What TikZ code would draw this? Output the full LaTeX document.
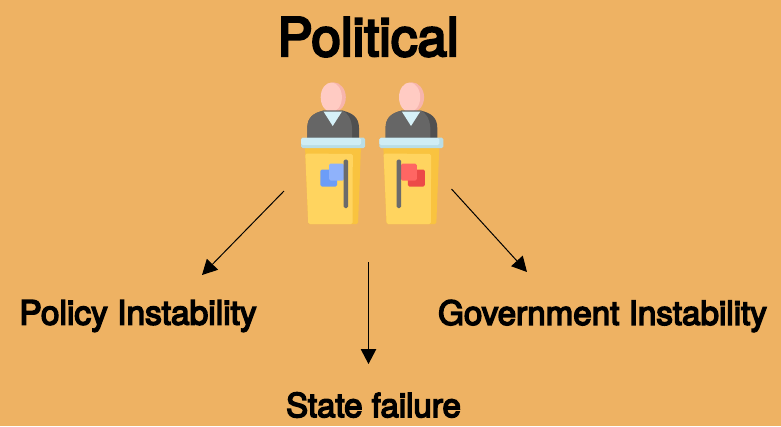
\documentclass[tikz,border=0pt]{standalone}
\usepackage{fontspec}
\setmainfont{TeX Gyre Heros}
\newfontfamily\heavy[FakeBold=4.5]{TeX Gyre Heros}
\usetikzlibrary{arrows.meta}
\definecolor{bgc}{HTML}{EEB263}
\definecolor{skin}{HTML}{FFCBC3}
\definecolor{skind}{HTML}{F7B5AD}
\definecolor{suit}{HTML}{666666}
\definecolor{suitd}{HTML}{505050}
\definecolor{shirt}{HTML}{D6F1F8}
\definecolor{bar}{HTML}{CFEDF5}
\definecolor{bard}{HTML}{B9DDE6}
\definecolor{wood}{HTML}{FFD45F}
\definecolor{woodd}{HTML}{F9C33F}
\definecolor{pole}{HTML}{6B6B6B}
\definecolor{blue1}{HTML}{6C9DF8}
\definecolor{blue2}{HTML}{8FB2FB}
\definecolor{red1}{HTML}{EC4A48}
\definecolor{red2}{HTML}{FF6663}
\tikzset{
  lab/.style={inner sep=0pt,font=\heavy\fontsize{#1}{#1}\selectfont,text=black},
  link/.style={draw=black,line width=1pt,-{Triangle[length=15pt,width=15.5pt]}},
  rc/.style={rounded corners=1.5pt},
}
\newcommand{\speakerbody}{%
  \fill[skind] (333.5,97.3) ellipse[x radius=12.3,y radius=15];
  \fill[skin] (331.3,97.3) ellipse[x radius=10.6,y radius=14.8];
  \fill[suitd] (307.3,138) -- (307.3,128) .. controls (307.3,117) and (314,113) .. (323,110.7) -- (343,110.7) .. controls (352,113) and (359,117) .. (359,128) -- (359,138) -- cycle;
  \fill[suit] (307.3,138) -- (307.3,128) .. controls (307.3,117) and (314,113) .. (323,110.7) -- (343,110.7) .. controls (347,113) and (351.5,118) .. (352,128) -- (352,138) -- cycle;
  \fill[shirt] (323.5,111.5) -- (342,111.5) -- (332.7,126) -- cycle;
  \fill[woodd,rc] (305,146) -- (361,146) -- (358,224) -- (308.3,224) -- cycle;
  \fill[wood,rc] (305.3,153.5) -- (352.8,154) -- (352.5,224) -- (308.3,224) -- cycle;
  \fill[bard,rc] (301,137.7) rectangle (365,148);
  \fill[bar,rc] (301,138) rectangle (361,145);
}
\begin{document}
\begin{tikzpicture}[x=1pt,y=-1pt]
\useasboundingbox (0,0) rectangle (781,426);
\fill[bgc] (0,0) rectangle (781,426);

% left speaker
\begin{scope}
  \speakerbody
  \fill[blue1,rc] (320.3,169.5) rectangle (337,186.5);
  \fill[blue2,rc] (329,163.7) rectangle (344,180.5);
  \fill[pole,rc] (343.5,159.5) rectangle (348,208);
\end{scope}

% right speaker
\begin{scope}[xshift=78.3pt]
  \speakerbody
  \fill[red1,rc] (329.5,169.5) rectangle (346.5,186.5);
  \fill[red2,rc] (322.5,163.7) rectangle (338.5,180.5);
  \fill[pole,rc] (318.3,159.5) rectangle (322.7,208);
\end{scope}

% labels
\node[lab=53] (title) at (368,37) {Political};
\node[lab=33.5] (policy) at (138,316) {Policy Instability};
\node[lab=33.2] (gov) at (602.5,316) {Government Instability};
\node[lab=33] (state) at (373.5,405) {State failure};

% connectors
\coordinate (a1) at (284,191);
\coordinate (a2) at (368.5,262);
\coordinate (a3) at (451.5,189);
\coordinate (b1) at (202,275);
\coordinate (b2) at (368.5,364);
\coordinate (b3) at (527,272);
\draw[link] (a1) -- (b1);
\draw[link] (a2) -- (b2);
\draw[link] (a3) -- (b3);
\end{tikzpicture}
\end{document}
